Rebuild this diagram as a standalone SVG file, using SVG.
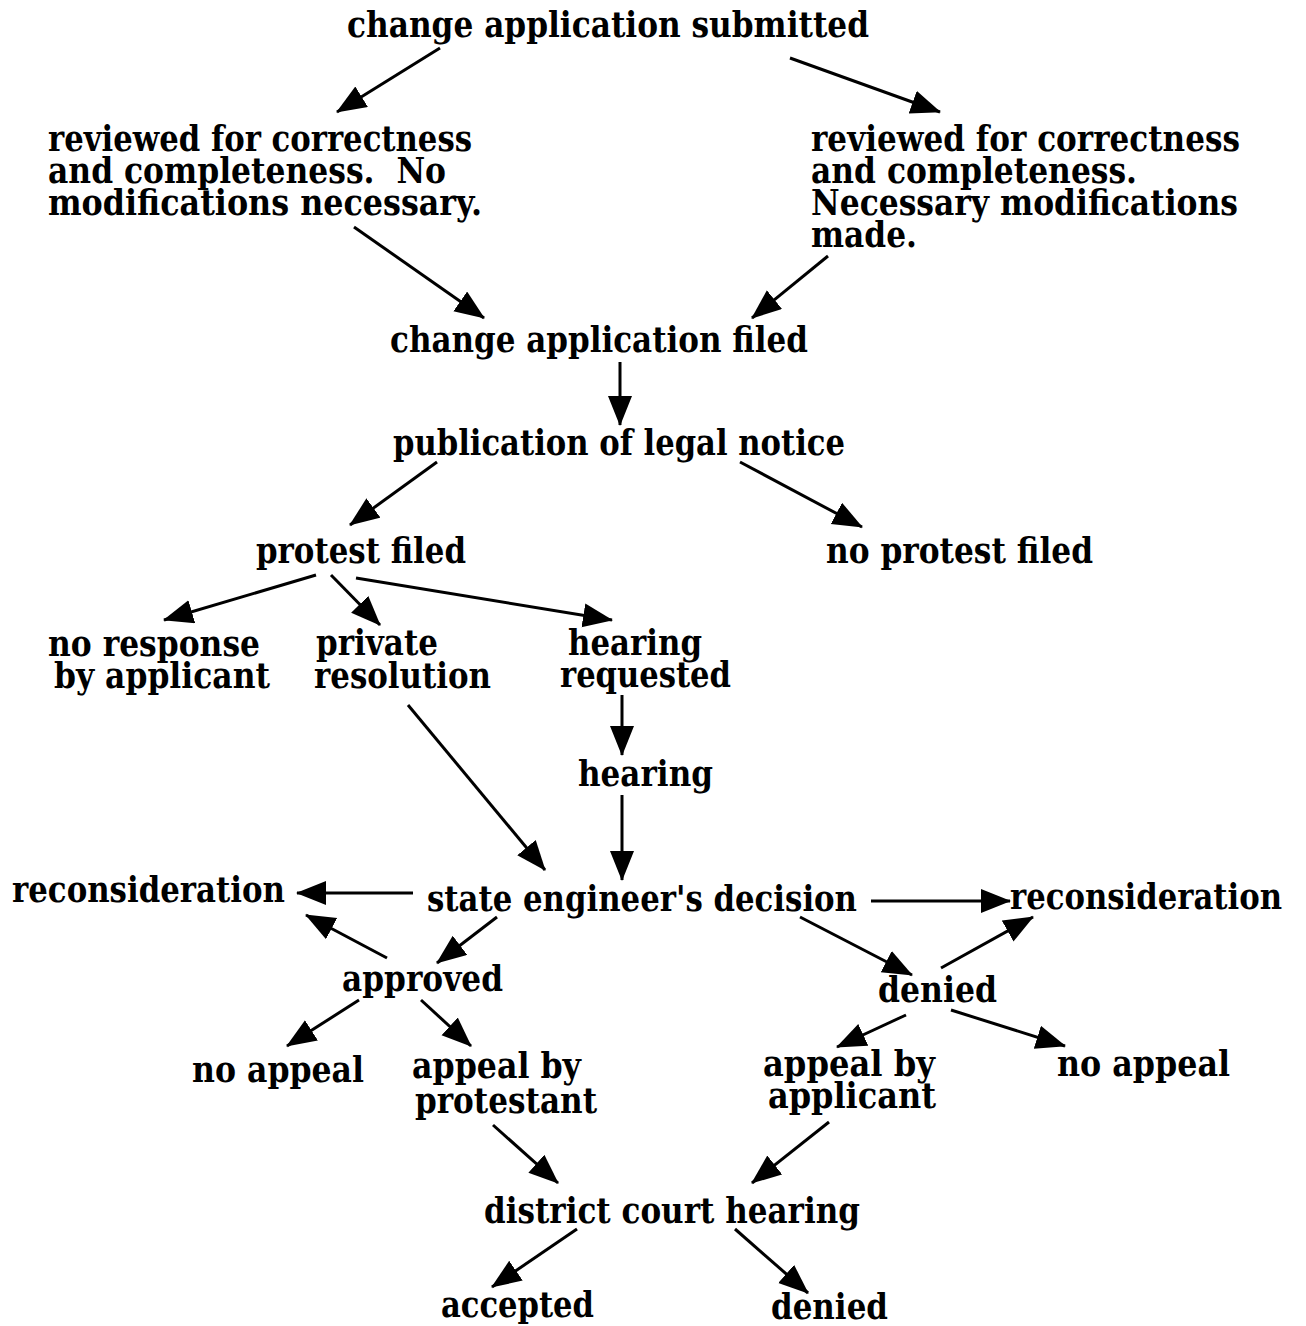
<svg xmlns="http://www.w3.org/2000/svg" width="1306" height="1326" viewBox="0 0 1306 1326">
<style>
text{font-family:"DejaVu Serif","Liberation Serif",serif;font-weight:bold;font-size:35px;fill:#000}
.c line{stroke:#000;stroke-width:3;marker-end:url(#ah)}
</style>
<defs>
<marker id="ah" markerUnits="userSpaceOnUse" markerWidth="32" markerHeight="26" refX="29" refY="12" orient="auto">
<path d="M0,0 L30,12 L0,24 Z" fill="#000"/>
</marker>
</defs>
<rect width="1306" height="1326" fill="#fff"/>
<g id="n1"><text x="347" y="37" textLength="522" lengthAdjust="spacingAndGlyphs">change application submitted</text></g>
<g id="n2">
<text x="48" y="151" textLength="424" lengthAdjust="spacingAndGlyphs">reviewed for correctness</text>
<text x="48" y="183" textLength="398" lengthAdjust="spacingAndGlyphs" xml:space="preserve">and completeness.  No</text>
<text x="48" y="215" textLength="434" lengthAdjust="spacingAndGlyphs">modifications necessary.</text>
</g>
<g id="n3">
<text x="811" y="151" textLength="429" lengthAdjust="spacingAndGlyphs">reviewed for correctness</text>
<text x="811" y="183" textLength="326" lengthAdjust="spacingAndGlyphs">and completeness.</text>
<text x="811" y="215" textLength="427" lengthAdjust="spacingAndGlyphs">Necessary modifications</text>
<text x="811" y="247" textLength="106" lengthAdjust="spacingAndGlyphs">made.</text>
</g>
<g id="n4"><text x="390" y="352" textLength="418" lengthAdjust="spacingAndGlyphs">change application filed</text></g>
<g id="n5"><text x="393" y="455" textLength="452" lengthAdjust="spacingAndGlyphs">publication of legal notice</text></g>
<g id="n6"><text x="256" y="563" textLength="210" lengthAdjust="spacingAndGlyphs">protest filed</text></g>
<g id="n7"><text x="826" y="563" textLength="267" lengthAdjust="spacingAndGlyphs">no protest filed</text></g>
<g id="n8">
<text x="48" y="656" textLength="212" lengthAdjust="spacingAndGlyphs">no response</text>
<text x="54" y="688" textLength="216" lengthAdjust="spacingAndGlyphs">by applicant</text>
</g>
<g id="n9">
<text x="316" y="655" textLength="122" lengthAdjust="spacingAndGlyphs">private</text>
<text x="314" y="688" textLength="177" lengthAdjust="spacingAndGlyphs">resolution</text>
</g>
<g id="n10">
<text x="568" y="655" textLength="134" lengthAdjust="spacingAndGlyphs">hearing</text>
<text x="560" y="687" textLength="171" lengthAdjust="spacingAndGlyphs">requested</text>
</g>
<g id="n11"><text x="578" y="786" textLength="135" lengthAdjust="spacingAndGlyphs">hearing</text></g>
<g id="n12"><text x="427" y="911" textLength="430" lengthAdjust="spacingAndGlyphs">state engineer's decision</text></g>
<g id="n13"><text x="12" y="902" textLength="273" lengthAdjust="spacingAndGlyphs">reconsideration</text></g>
<g id="n14"><text x="1010" y="909" textLength="272" lengthAdjust="spacingAndGlyphs">reconsideration</text></g>
<g id="n15"><text x="342" y="991" textLength="161" lengthAdjust="spacingAndGlyphs">approved</text></g>
<g id="n16"><text x="878" y="1002" textLength="119" lengthAdjust="spacingAndGlyphs">denied</text></g>
<g id="n17"><text x="192" y="1082" textLength="172" lengthAdjust="spacingAndGlyphs">no appeal</text></g>
<g id="n18">
<text x="412" y="1078" textLength="169" lengthAdjust="spacingAndGlyphs">appeal by</text>
<text x="415" y="1113" textLength="182" lengthAdjust="spacingAndGlyphs">protestant</text>
</g>
<g id="n19">
<text x="763" y="1076" textLength="172" lengthAdjust="spacingAndGlyphs">appeal by</text>
<text x="768" y="1108" textLength="168" lengthAdjust="spacingAndGlyphs">applicant</text>
</g>
<g id="n20"><text x="1057" y="1076" textLength="173" lengthAdjust="spacingAndGlyphs">no appeal</text></g>
<g id="n21"><text x="484" y="1223" textLength="376" lengthAdjust="spacingAndGlyphs">district court hearing</text></g>
<g id="n22"><text x="441" y="1317" textLength="153" lengthAdjust="spacingAndGlyphs">accepted</text></g>
<g id="n23"><text x="771" y="1319" textLength="117" lengthAdjust="spacingAndGlyphs">denied</text></g>
<g id="connectors" class="c">
<line x1="440" y1="48" x2="337" y2="112"/>
<line x1="790" y1="58" x2="940" y2="112"/>
<line x1="354" y1="227" x2="484" y2="318"/>
<line x1="828" y1="256" x2="752" y2="318"/>
<line x1="620" y1="362" x2="620" y2="425"/>
<line x1="437" y1="462" x2="350" y2="525"/>
<line x1="740" y1="462" x2="862" y2="527"/>
<line x1="316" y1="575" x2="164" y2="620"/>
<line x1="331" y1="575" x2="380" y2="625"/>
<line x1="356" y1="578" x2="612" y2="620"/>
<line x1="622" y1="695" x2="622" y2="755"/>
<line x1="408" y1="705" x2="545" y2="870"/>
<line x1="622" y1="795" x2="622" y2="880"/>
<line x1="413" y1="893" x2="297" y2="893"/>
<line x1="871" y1="901" x2="1010" y2="901"/>
<line x1="387" y1="958" x2="306" y2="915"/>
<line x1="497" y1="917" x2="437" y2="963"/>
<line x1="800" y1="917" x2="912" y2="975"/>
<line x1="941" y1="968" x2="1033" y2="917"/>
<line x1="359" y1="1000" x2="287" y2="1046"/>
<line x1="421" y1="1000" x2="471" y2="1046"/>
<line x1="906" y1="1015" x2="837" y2="1047"/>
<line x1="951" y1="1010" x2="1065" y2="1046"/>
<line x1="493" y1="1125" x2="558" y2="1183"/>
<line x1="829" y1="1122" x2="752" y2="1183"/>
<line x1="577" y1="1229" x2="492" y2="1287"/>
<line x1="735" y1="1229" x2="808" y2="1293"/>
</g>
</svg>
